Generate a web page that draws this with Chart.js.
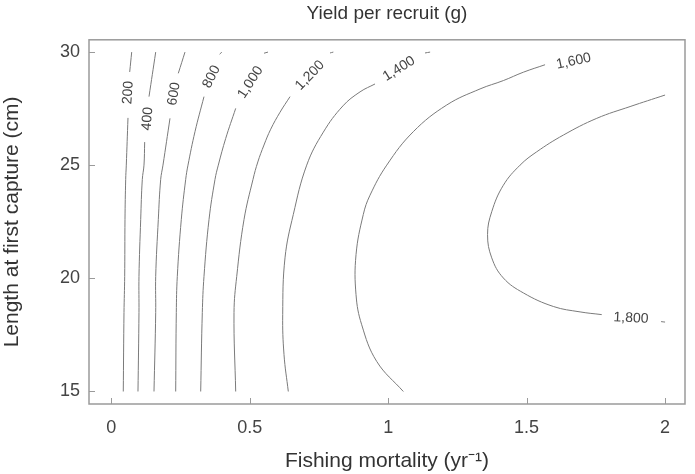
<!DOCTYPE html>
<html><head><meta charset="utf-8">
<script src="https://cdn.jsdelivr.net/npm/chart.js@4/dist/chart.umd.min.js"></script>
<style>html,body{margin:0;padding:0;background:#fff}#wrap{width:695px;height:474px}</style>
</head><body><div id="wrap"><canvas id="c" width="695" height="474"></canvas></div>
<script>
const FONT = "'Liberation Sans', Arial, sans-serif";

// Tick values
const xTicks = [0, 0.5, 1, 1.5, 2];
const yTicks = [15, 20, 25, 30];

// Contour levels (yield per recruit, g)
const levels = [200, 400, 600, 800, 1000, 1200, 1400, 1600, 1800];

// Contour lines: [fishing mortality, length at first capture]; null = gap for label
const c200 = [[0.0433,15],[0.0459,18.49],[0.0484,20.09],[0.0495,22.6],[0.052,24.38],[0.0542,25.01],[0.0603,27.1],null,[0.0665,29.13],[0.0737,30.01]];
const c400 = [[0.0964,15],[0.1,18.49],[0.1,20.09],[0.1062,22.6],[0.112,24.38],[0.1181,25.01],[0.1206,26.03],null,[0.1362,28.04],[0.1604,30.01]];
const c600 = [[0.1542,15],[0.1604,18.49],[0.1604,20.09],[0.1698,22.6],[0.1784,24.38],[0.1867,25.01],[0.212,27.08],null,[0.242,29.07],[0.2662,30.01]];
const c800 = [[0.2326,15],[0.2348,18.49],[0.2384,20.09],[0.2528,22.6],[0.2687,24.38],[0.277,25.01],[0.3023,26.49],[0.3348,28.04],null,[0.3915,29.91],[0.3988,30.01]];
const c1000 = [[0.3229,15],[0.3287,18.49],[0.3348,20.09],[0.3529,22.6],[0.3746,24.38],[0.3865,25.01],[0.4132,26.19],[0.4493,27.52],null,[0.5516,29.96],[0.566,30.01]];
const c1200 = [[0.4493,15],[0.4432,18.49],[0.453,20.09],[0.4793,22.6],[0.5118,24.38],[0.5292,25.15],[0.5515,25.9],[0.5758,26.6],[0.6094,27.35],[0.6455,28.04],null,[0.79,29.97],[0.802,30.01]];
const c1400 = [[0.6393,15],[0.6238,16.63],[0.6191,18.4],[0.6274,20.91],[0.6574,22.83],[0.7058,25.01],[0.7658,26.47],[0.8366,27.63],[0.8983,28.25],[0.9525,28.6],null,[1.133,29.97],[1.1515,30.01]];
const c1600 = [[1.0547,15],[0.9586,16.33],[0.9044,17.95],[0.8839,19.28],[0.8839,21.05],[0.9102,22.83],[0.9344,23.68],[0.9948,25.01],[1.0908,26.49],[1.2115,27.67],[1.3318,28.38],[1.416,28.75],[1.4882,29.12],[1.5666,29.45]];
const c1800 = [[2.0,28.11],[1.8736,27.6],[1.7533,27.08],[1.6327,26.34],[1.5365,25.6],[1.4763,25.01],[1.4159,24.12],[1.374,22.95],[1.3589,21.94],[1.374,20.91],[1.4159,20.02],[1.4882,19.36],[1.5965,18.76],[1.693,18.52],[1.7713,18.4],null,[1.9856,18.09],[2.0,18.07]];

// Contour labels
const labelText = ['200','400','600','800','1,000','1,200','1,400','1,600','1,800'];
const labelF = [0.061, 0.131, 0.2265, 0.362, 0.503, 0.7177, 1.039, 1.670, 1.877];
const labelL = [28.22, 27.06, 28.16, 28.92, 28.67, 28.98, 29.27, 29.60, 18.24];
const labelAngle = [-86, -85, -81, -63, -57, -46, -32, -12, 3];

const contours = [c200, c400, c600, c800, c1000, c1200, c1400, c1600, c1800];
const toPts = arr => arr.map((p, i) => p ? {x: p[0], y: p[1]} : {x: arr[i-1][0], y: null});

const deco = {
  id: 'deco',
  afterDatasetsDraw(chart) {
    const {ctx, chartArea: a, scales: {x, y}} = chart;
    ctx.save();
    ctx.strokeStyle = '#9a9a9a';
    ctx.lineWidth = 1.5;
    ctx.strokeRect(a.left, a.top, a.right - a.left, a.bottom - a.top);
    ctx.lineWidth = 1;
    xTicks.forEach(v => {
      const px = Math.round(x.getPixelForValue(v)) + 0.5;
      ctx.beginPath(); ctx.moveTo(px, a.bottom); ctx.lineTo(px, a.bottom - 6); ctx.stroke();
    });
    yTicks.forEach(v => {
      const py = Math.round(y.getPixelForValue(v)) + 0.5;
      ctx.beginPath(); ctx.moveTo(a.left, py); ctx.lineTo(a.left + 6, py); ctx.stroke();
    });
    ctx.fillStyle = '#444';
    ctx.font = '14px ' + FONT;
    ctx.textAlign = 'center';
    ctx.textBaseline = 'middle';
    labelText.forEach((t, i) => {
      ctx.save();
      ctx.translate(x.getPixelForValue(labelF[i]), y.getPixelForValue(labelL[i]));
      ctx.rotate(labelAngle[i] * Math.PI / 180);
      ctx.fillText(t, 0, 0);
      ctx.restore();
    });
    ctx.restore();
  }
};

new Chart(document.getElementById('c'), {
  type: 'line',
  data: {
    datasets: contours.map((c, i) => ({
      label: String(levels[i]),
      data: toPts(c),
      borderColor: '#7a7a7a',
      borderWidth: 1,
      pointRadius: 0,
      tension: 0.4,
      spanGaps: false,
      fill: false
    }))
  },
  options: {
    responsive: false,
    animation: false,
    devicePixelRatio: 1,
    layout: {padding: {left: 0, right: 10, top: 0, bottom: 0}},
    plugins: {
      legend: {display: false},
      tooltip: {enabled: false},
      title: {
        display: true,
        text: 'Yield per recruit (g)',
        fullSize: false,
        color: '#333',
        font: {family: FONT, size: 19, weight: 'normal'},
        padding: {top: 2, bottom: 15}
      }
    },
    scales: {
      x: {
        type: 'linear',
        min: -0.0805, max: 2.072,
        afterBuildTicks: s => { s.ticks = xTicks.map(v => ({value: v})); },
        afterFit: s => { s.height = 70; },
        grid: {display: false, drawTicks: false},
        border: {display: false},
        ticks: {color: '#444', font: {family: FONT, size: 18}, padding: 13, maxRotation: 0, autoSkip: false, callback: v => String(v)},
        title: {display: true, text: 'Fishing mortality (yr\u207B\u00B9)', color: '#333', font: {family: FONT, size: 21}, padding: {top: 0, bottom: 0}}
      },
      y: {
        type: 'linear',
        min: 14.447, max: 30.553,
        afterBuildTicks: s => { s.ticks = yTicks.map(v => ({value: v})); },
        afterFit: s => { s.width = 89; },
        grid: {display: false, drawTicks: false},
        border: {display: false},
        ticks: {color: '#444', font: {family: FONT, size: 18}, padding: 9, autoSkip: false, callback: v => String(v)},
        title: {display: true, text: 'Length at first capture (cm)', color: '#333', font: {family: FONT, size: 21}, padding: {top: 0, bottom: 0}}
      }
    }
  },
  plugins: [deco]
});
</script></body></html>
